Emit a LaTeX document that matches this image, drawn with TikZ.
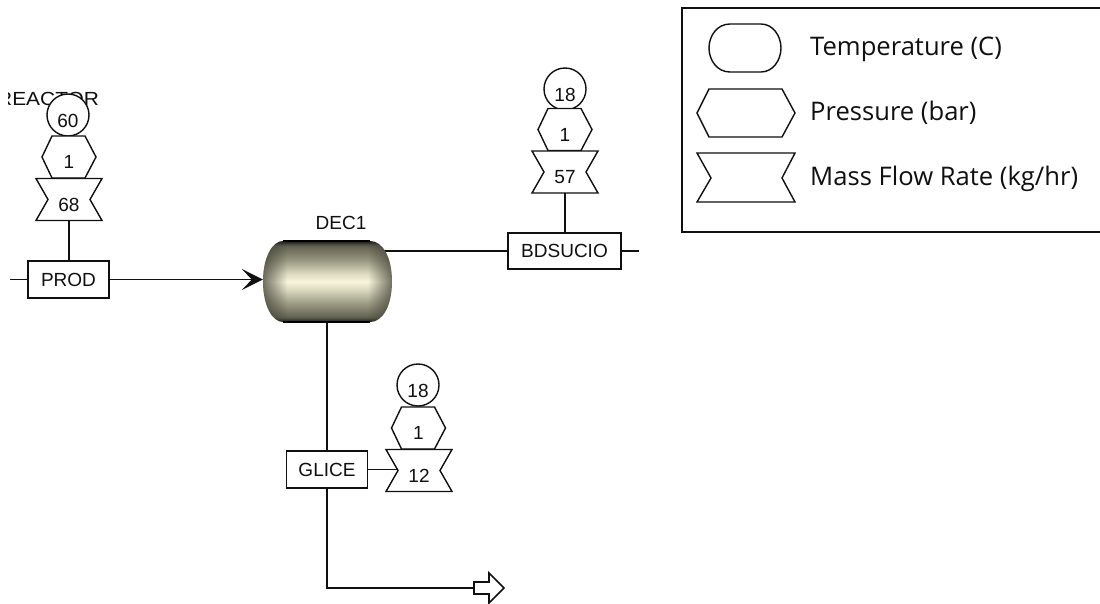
\documentclass[tikz,border=0pt]{standalone}
\usepackage{fontspec}
\setmainfont{Liberation Sans}
\newfontfamily\legendfont{Open Sans}
\usetikzlibrary{fadings,arrows.meta}
\definecolor{ink}{HTML}{101010}
\definecolor{rim}{HTML}{3A3A2E}
\tikzfading[name=endL, left color=transparent!30, right color=transparent!100]
\tikzfading[name=endR, left color=transparent!100, right color=transparent!30]
\pgfdeclareverticalshading{vess}{100bp}{
  rgb(0bp)=(0.1,0.1,0.08);
  rgb(25bp)=(0.1,0.1,0.08);
  rgb(28bp)=(0.38,0.38,0.32);
  rgb(37bp)=(0.62,0.62,0.53);
  rgb(45bp)=(0.86,0.85,0.75);
  rgb(50bp)=(0.97,0.96,0.86);
  rgb(55bp)=(0.86,0.85,0.75);
  rgb(63bp)=(0.6,0.6,0.51);
  rgb(72bp)=(0.38,0.38,0.32);
  rgb(75bp)=(0.1,0.1,0.08);
  rgb(100bp)=(0.1,0.1,0.08)}
\tikzset{
  x=1pt,y=-1pt,
  lab/.style={font=\fontsize{19}{19}\selectfont,text=ink,inner sep=0pt},
  leg/.style={font=\legendfont\fontsize{25.6}{25.6}\selectfont,text=ink,inner sep=0pt,anchor=base west},
  streambox/.style={draw=ink,line width=1.8pt,fill=white,minimum width=81pt,minimum height=37pt,inner sep=0pt,font=\fontsize{19}{19}\selectfont,text=ink},
  stream/.style={draw=ink,line width=1.8pt},
  shapeline/.style={draw=ink,line width=1.4pt,fill=white,line join=miter},
  slotval/.style={inner sep=0pt,font=\fontsize{19}{19}\selectfont,text=ink},
}
\newcommand{\hexval}[4]{%
  \path[shapeline] (#2-27,#3) -- (#2-17,#3-21) -- (#2+16,#3-21) -- (#2+27,#3) -- (#2+16,#3+21) -- (#2-17,#3+21) -- cycle;
  \node[slotval,minimum width=54pt,minimum height=42pt] (#1) at (#2,#3+5) {#4};}
\newcommand{\bowval}[4]{%
  \path[shapeline] (#2-33,#3-21) -- (#2+33,#3-21) -- (#2+21,#3) -- (#2+33,#3+21) -- (#2-33,#3+21) -- (#2-21,#3) -- cycle;
  \node[slotval] (#1) at (#2,#3+5) {#4};
  \coordinate (#1foot) at (#2,#3+21);}
\newcommand{\tempval}[4]{%
  \node[draw=ink,line width=1.4pt,circle,fill=white,minimum size=42pt,inner sep=0pt] (#1) at (#2,#3) {};
  \node[slotval] (#1t) at (#2,#3+6) {#4};}
\begin{document}
\begin{tikzpicture}
\useasboundingbox (0,0) rectangle (1100,603);
\fill[white] (0,0) rectangle (1100,603);
\begin{scope}
\clip (0,0) rectangle (1100,603);
\begin{scope}
\clip (8,80) rectangle (120,110);
\node[lab,anchor=base west,xscale=1.1] (reactorlab) at (-3,105) {REACTOR};
\end{scope}
\tempval{t1}{68}{115}{60}
\hexval{p1}{69}{157}{1}
\bowval{m1}{69}{199.5}{68}
\tempval{t2}{565}{89}{18}
\hexval{p2}{565}{129.5}{1}
\bowval{m2}{565}{172}{57}
\tempval{t3}{418}{385}{18}
\hexval{p3}{418.5}{428}{1}
\bowval{m3}{419}{470.5}{12}
\node[streambox] (prod) at (68.5,279.5) {PROD};
\node[streambox,minimum width=113pt,minimum height=36pt] (bds) at (564.5,251) {BDSUCIO};
\node[streambox] (glice) at (327,469.5) {GLICE};
\node[inner sep=0pt,minimum width=129pt,minimum height=81pt] (dec) at (327.5,281.5) {};
\node[lab,anchor=base] (declab) at (341,229) {DEC1};
\coordinate (prodin) at (10,279.5);
\coordinate (bdsout) at (639,251);
\coordinate (corner) at (327,588);
\coordinate (glout) at (474,588);
\coordinate (m3in) at (398,469.5);
\draw[stream] (m1foot) -- (m1foot |- prod.north);
\draw[stream] (m2foot) -- (m2foot |- bds.north);
\draw[stream] (prodin) -- (prod.west);
\draw[stream] (dec.center |- bds.west) -- (bds.west);
\draw[stream] (bds.east) -- (bdsout);
\draw[stream] (dec.center -| glice.north) -- (glice.north);
\draw[stream] (glice.south) -- (corner) -- (glout);
\draw[stream] (glice.east) -- (m3in);
% vessel
\newcommand{\vesselpath}{(283,241) -- (370,241) .. controls (383,241) and (392,258) .. (392,281.5) .. controls (392,305) and (383,322) .. (370,322) -- (283,322) .. controls (272,322) and (263,305) .. (263,281.5) .. controls (263,258) and (272,241) .. (283,241) -- cycle}
\begin{scope}
\clip \vesselpath;
\shade[shading=vess] (263,241) rectangle (392,322);
\fill[rim,path fading=endL] (263,241) rectangle (287,322);
\fill[rim,path fading=endR] (368,241) rectangle (392,322);
\end{scope}
\draw[black,line width=1.5pt] (283,241) -- (370,241) (283,322) -- (370,322);
% inlet with its arrowhead
\draw[stream,-{Stealth[length=21pt,width=21pt,inset=10pt]}] (prod.east) -- (dec.west |- prod.east);
% outlet arrow
\draw[shapeline,line width=1.6pt] (glout) ++(0,-6) -- ++(15,0) -- ++(0,-9) -- (504,588) -- (489,603) -- ++(0,-9) -- (474,594) -- cycle;
% legend
\draw[draw=ink,line width=1.8pt] (682,8) rectangle (1106,232);
\draw[shapeline] (730,24) -- (761,24) .. controls (773,24) and (781,36) .. (781,48) .. controls (781,60) and (773,72) .. (761,72) -- (730,72) .. controls (717,72) and (709,60) .. (709,48) .. controls (709,36) and (717,24) .. (730,24) -- cycle;
\draw[shapeline] (697,113) -- (709,89) -- (782,89) -- (795,113) -- (782,137) -- (709,137) -- cycle;
\draw[shapeline] (697,153) -- (795,153) -- (782,178) -- (795,202) -- (697,202) -- (711,178) -- cycle;
\node[leg] (legT) at (810,55) {Temperature (C)};
\node[leg] (legP) at (810,120) {Pressure (bar)};
\node[leg] (legM) at (810,185) {Mass Flow Rate (kg/hr)};
\end{scope}
\end{tikzpicture}
\end{document}
